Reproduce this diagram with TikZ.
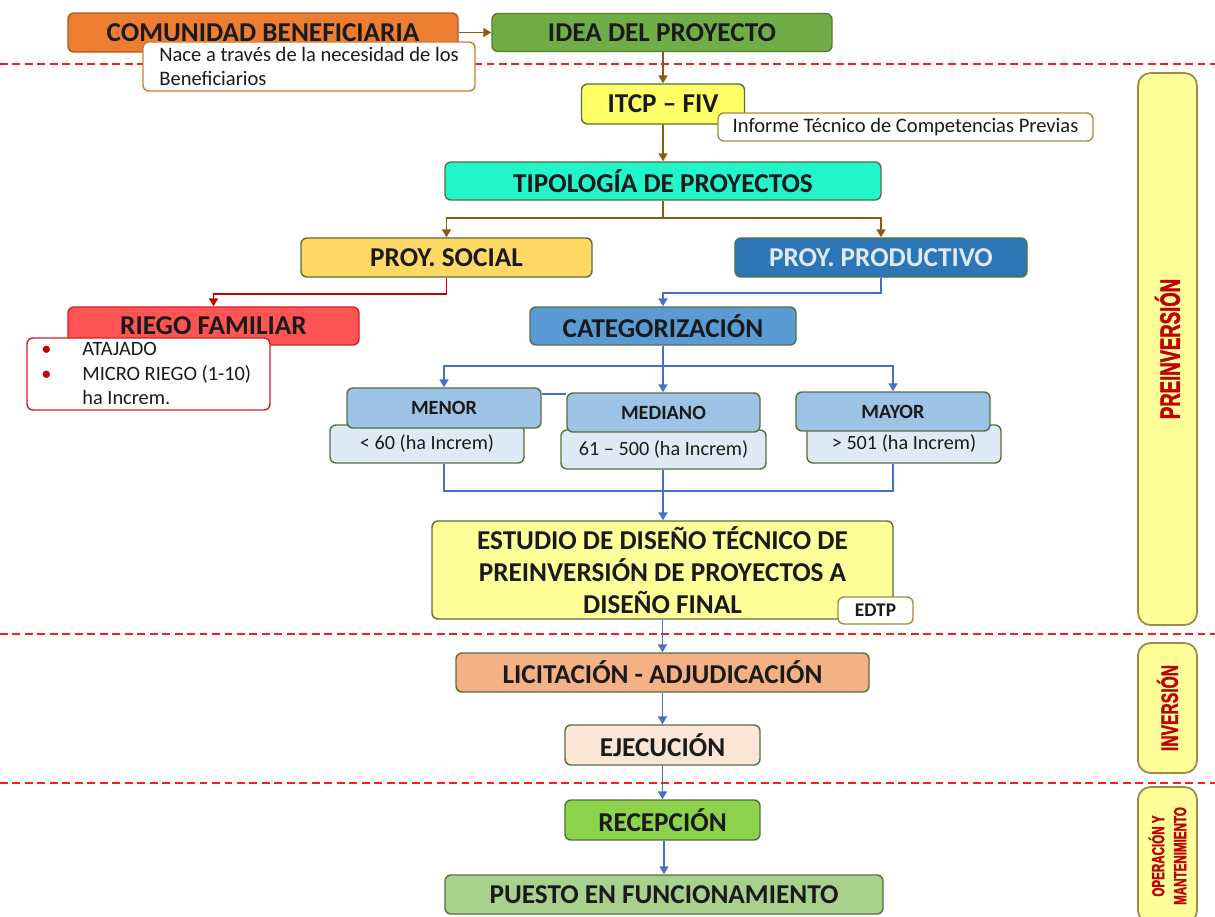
\documentclass[tikz,border=0pt]{standalone}
\usepackage{fontspec}
\setmainfont{Carlito}
\newfontfamily\sidefont{Liberation Sans}[FakeStretch=0.66, FakeBold=1.6]
\usetikzlibrary{arrows.meta,calc}

\definecolor{cCom}{HTML}{ED7D31}\definecolor{cComB}{HTML}{AE5A21}
\definecolor{cIdea}{HTML}{70AD47}\definecolor{cIdeaB}{HTML}{507E32}
\definecolor{cItcp}{HTML}{FFFF66}
\definecolor{cTipo}{HTML}{21F5C9}
\definecolor{cSoc}{HTML}{FFD966}
\definecolor{cProd}{HTML}{2E75B6}\definecolor{cProdT}{HTML}{DEEBF7}
\definecolor{cRiego}{HTML}{FF5454}\definecolor{cRiegoB}{HTML}{D02020}
\definecolor{cCat}{HTML}{5B9BD5}
\definecolor{cCls}{HTML}{9DC3E6}
\definecolor{cRng}{HTML}{DEEBF7}
\definecolor{cEst}{HTML}{FFFF99}
\definecolor{cLic}{HTML}{F4B183}
\definecolor{cEje}{HTML}{FBE5D6}
\definecolor{cRec}{HTML}{8CD24B}
\definecolor{cPue}{HTML}{A9D18E}
\definecolor{cBorder}{HTML}{55703F}
\definecolor{cGold}{HTML}{A38B3C}
\definecolor{cNaceB}{HTML}{D9782F}
\definecolor{cBrown}{HTML}{8A5A12}
\definecolor{cBlue}{HTML}{4472C4}
\definecolor{cRed}{HTML}{C80000}
\definecolor{cDash}{HTML}{FF1A1A}
\definecolor{cInk}{HTML}{1A1A1A}
\definecolor{cSide}{HTML}{FFFF99}
\definecolor{cSideB}{HTML}{9C8A45}
\definecolor{cSideT}{HTML}{C00000}

\tikzset{
  sz/.style 2 args={minimum width=#1*0.02cm, minimum height=#2*0.02cm},
  box/.style={draw=cBorder, line width=0.8pt, rounded corners=0.12cm, inner sep=0pt,
    text=cInk, font=\fontsize{15.5}{18.5}\selectfont\bfseries},
  smallbox/.style={box, font=\fontsize{11.5}{14}\selectfont\bfseries},
  rangebox/.style={box, fill=cRng, font=\fontsize{11.5}{14}\selectfont},
  notebox/.style={draw=cGold, fill=white, line width=0.8pt, rounded corners=0.12cm,
    inner sep=0pt, text=cInk, font=\fontsize{11.7}{13.8}\selectfont},
  sidebox/.style={draw=cSideB, fill=cSide, line width=1pt, rounded corners=0.25cm,
    minimum width=1.18cm, inner sep=0pt},
  sidetext/.style={rotate=90, text=cSideT, inner sep=0pt, align=center},
  phase/.style={draw=cDash, line width=1.2pt, dash pattern=on 4.5pt off 2.6pt},
  tip/.style={-{Triangle[length=4.5pt,width=5pt]}},
  brline/.style={draw=cBrown, line width=1.1pt},
  brarrow/.style={brline, tip},
  redarrow/.style={draw=cRed, line width=1.1pt, tip},
  blline/.style={draw=cBlue, line width=1.1pt},
  blarrow/.style={blline, tip},
}

\begin{document}
\begin{tikzpicture}[x=0.02cm, y=-0.02cm]
\useasboundingbox (0,0) rectangle (1215,917);
\fill[white] (0,0) rectangle (1215,917);
\clip (0,0) rectangle (1215,917);

% phase separators
\draw[phase] (0,64) -- (1215,64);
\draw[phase] (0,634) -- (1215,634);
\draw[phase] (0,783) -- (1215,783);

% phase labels on the right
\node[sidebox, minimum height=552*0.02cm] (sPre) at (1167.5,349) {};
\node[sidetext, font=\sidefont\bfseries\fontsize{16}{18}\selectfont] (tPre) at (sPre.center) {PREINVERSIÓN};
\node[sidebox, minimum height=130*0.02cm] (sInv) at (1167.5,708) {};
\node[sidetext, font=\sidefont\bfseries\fontsize{13.5}{15}\selectfont] (tInv) at (sInv.center) {INVERSIÓN};
\node[sidebox, minimum height=136*0.02cm] (sOp) at (1167.5,855) {};
\node[sidetext, font=\sidefont\bfseries\fontsize{10}{12.5}\selectfont] (tOp) at (1167.5,856) {OPERACIÓN Y\\MANTENIMIENTO};

% process boxes
\node[box, fill=cCom, draw=cComB, sz={390}{39}] (com) at (263,32.5) {COMUNIDAD BENEFICIARIA};
\node[box, fill=cIdea, draw=cIdeaB, sz={340}{38}] (idea) at (662,32.5) {IDEA DEL PROYECTO};
\node[box, fill=cItcp, sz={163}{40}] (itcp) at (663,104) {ITCP -- FIV};
\node[box, fill=cTipo, sz={436}{38}] (tipo) at (663,181) {TIPOLOGÍA DE PROYECTOS};
\node[box, fill=cSoc, sz={291}{39}] (soc) at (446.5,257.5) {PROY. SOCIAL};
\node[box, fill=cProd, text=cProdT, sz={292}{39}] (prod) at (881,257.5) {PROY. PRODUCTIVO};
\node[box, fill=cRiego, draw=cRiegoB, sz={291}{38}] (riego) at (213.5,326) {RIEGO FAMILIAR};
\node[box, fill=cCat, sz={266}{38}] (cat) at (663,326) {CATEGORIZACIÓN};

% size classes: range boxes below, class headers on top
\node[rangebox, sz={194}{38}] (r1) at (427,444) {< 60 (ha Increm)};
\node[rangebox, sz={205}{39}] (r2) at (663.5,449.5) {61 -- 500 (ha Increm)};
\node[rangebox, sz={194}{38}] (r3) at (904,444) {> 501 (ha Increm)};
\node[smallbox, fill=cCls, sz={194}{40}] (menor) at (444,408) {MENOR};
\node[smallbox, fill=cCls, sz={193}{39}] (mediano) at (663.5,412.5) {MEDIANO};
\node[smallbox, fill=cCls, sz={194}{39}] (mayor) at (893,411.5) {MAYOR};

\node[box, fill=cEst, sz={461}{98}, align=center,
      font=\fontsize{15.5}{18.4}\selectfont\bfseries] (est) at (662.5,570)
  {ESTUDIO DE DISEÑO TÉCNICO DE\\PREINVERSIÓN DE PROYECTOS A\\DISEÑO FINAL};

\node[box, fill=cLic, sz={413}{39}] (lic) at (662.5,672.5) {LICITACIÓN - ADJUDICACIÓN};
\node[box, fill=cEje, sz={195}{40}] (eje) at (662.5,745) {EJECUCIÓN};
\node[box, fill=cRec, sz={195}{40}] (rec) at (662.5,820) {RECEPCIÓN};
\node[box, fill=cPue, sz={438}{39}] (pue) at (664,894.5) {PUESTO EN FUNCIONAMIENTO};

% connectors
\coordinate (tb) at (663,218);
\coordinate (cb) at (663,366);
\coordinate (jb) at (663,491);

\draw[brarrow] (com.east) -- (com.east -| idea.west);
\draw[brarrow] (idea.south -| itcp.north) -- (itcp.north);
\draw[brarrow] (itcp.south) -- (itcp.south |- tipo.north);
\draw[brline] (tipo.south) -- (tb);
\draw[brarrow] (tb) -| (soc.north);
\draw[brarrow] (tb) -| (prod.north);

\draw[redarrow] (soc.south) -- ++(0,16) -| (riego.north);
\draw[blarrow] (prod.south) -- ++(0,15) -| (cat.north);

\draw[blline] (cat.south) -- (cb);
\draw[blarrow] (cb) -| (menor.north);
\draw[blarrow] (cb) -- (cb |- mediano.north);
\draw[blarrow] (cb) -| (mayor.north);
\draw[blline] ([yshift=-0.14cm]menor.north east) -- ([yshift=-0.14cm]menor.north east -| mediano.west);

\draw[blline] (r1.south -| menor.south) -- (menor.south |- jb) -- (jb -| mayor.south) -- (r3.south -| mayor.south);
\draw[blarrow] (r2.south -| jb) -- (jb |- est.north);

\draw[blarrow] (est.south -| lic.north) -- (lic.north);
\draw[blarrow] (lic.south) -- (eje.north);
\draw[blarrow] (eje.south) -- (rec.north);
\draw[blarrow] (rec.south -| pue.north) -- (pue.north);

% notes sit over the boxes they annotate
\node[notebox, draw=cNaceB, sz={332}{49}, align=left] (nace) at (309,66.5)
  {Nace a través de la necesidad de los\\Beneficiarios};
\node[notebox, sz={375}{28}] (inf) at (905.5,127) {Informe Técnico de Competencias Previas};
\node[notebox, draw=cRiegoB, sz={243}{72}] (lista) at (148.5,374) {};
\node[anchor=north west, inner sep=0pt, align=left, text=cInk,
      font=\fontsize{11.6}{14}\selectfont] (listaTxt) at (41,342)
  {\makebox[0.82cm][l]{\textcolor{cRed}{\textbullet}}ATAJADO\\
   \makebox[0.82cm][l]{\textcolor{cRed}{\textbullet}}MICRO RIEGO (1-10)\\
   \hspace*{0.82cm}ha Increm.};
\node[notebox, sz={75}{27}, font=\fontsize{11}{13}\selectfont\bfseries] (edtp) at (875.5,610.5) {EDTP};
\end{tikzpicture}
\end{document}
